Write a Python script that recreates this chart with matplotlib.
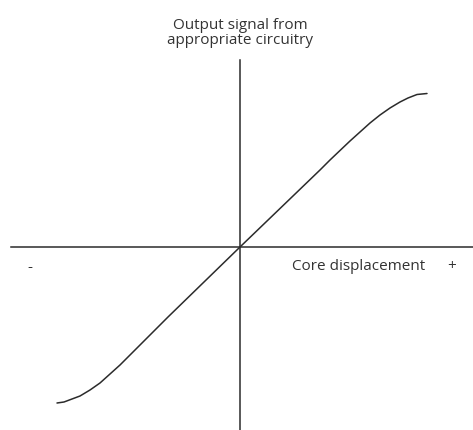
import matplotlib.pyplot as plt

# curve (core displacement vs output signal)
desplazamiento = [-183, -176, -168, -160, -150, -140, -130, -120, -110, -100, -90, -72,
                  0, 80, 90, 100, 110, 120, 130, 140, 150, 160, 168, 177, 187]
senal = [-156, -155, -152, -149, -143, -136, -127, -118, -108, -98, -88, -70,
         0, 77, 87, 96.5, 106, 115, 124, 132, 139, 145, 149, 152.5, 153.5]

titulo_y = "Output signal from\nappropriate circuitry"
titulo_x = "Core displacement"

plt.rcParams['font.family'] = ['Open Sans', 'DejaVu Sans']

fig = plt.figure(figsize=(4.73, 4.30), dpi=100)
ax = fig.add_axes([0, 0, 1, 1])
ax.set_xlim(-240, 233)
ax.set_ylim(-183, 247)
ax.axis("off")

color = "#2b2b2b"
ax.plot([-229, 233], [0, 0], color=color, linewidth=1.1)
ax.plot([0, 0], [-183, 187], color=color, linewidth=1.1)
ax.plot(desplazamiento, senal, color=color, linewidth=1.1,
        solid_capstyle="round", solid_joinstyle="round")

ax.text(0, 214, titulo_y, ha="center", va="center", fontsize=11,
        color="#333333", linespacing=1.05)
ax.text(52, -20, titulo_x, ha="left", va="center", fontsize=11, color="#333333")
ax.text(212, -20, "+", ha="center", va="center", fontsize=11, color="#333333")
ax.text(-210, -20, "-", ha="center", va="center", fontsize=11, color="#333333")

plt.savefig("out.png", dpi=100)
